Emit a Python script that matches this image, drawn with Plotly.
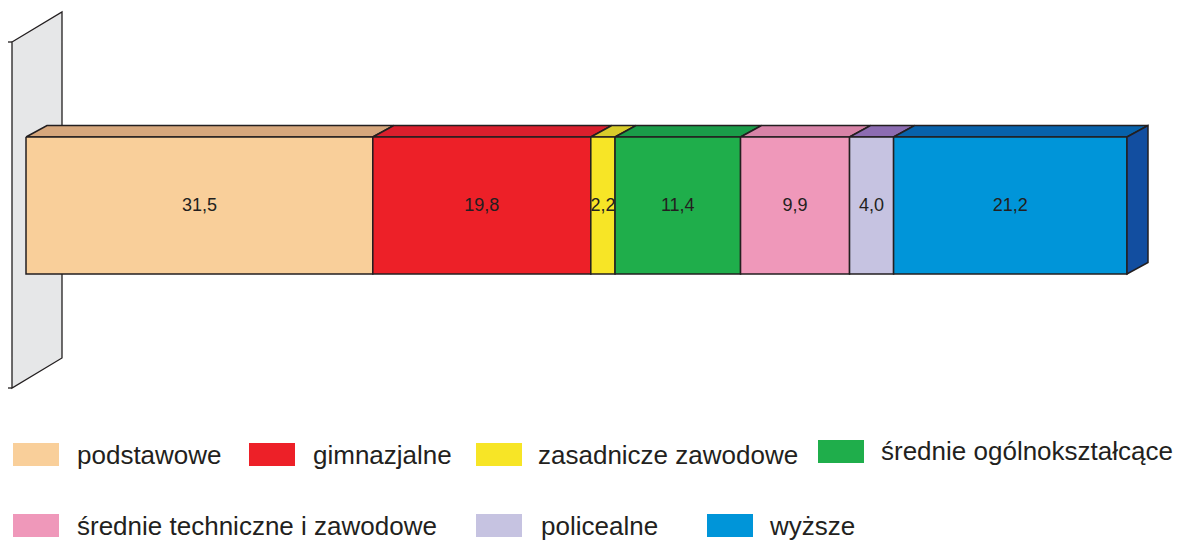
import plotly.graph_objects as go

W, H = 1185, 541
OFF = 8  # domyslny margines strony

kategorie = ['podstawowe', 'gimnazjalne', 'zasadnicze zawodowe', 'średnie ogólnokształcące',
             'średnie techniczne i zawodowe', 'policealne', 'wyższe']
wartosci = [31.5, 19.8, 2.2, 11.4, 9.9, 4.0, 21.2]
etykiety = ['31,5', '19,8', '2,2', '11,4', '9,9', '4,0', '21,2']

kolory_przod = ['#f9cf9a', '#ed2028', '#f7e526', '#1fae4b', '#ef98ba', '#c6c3e1', '#0095d9']
kolory_gora = ['#d6a77c', '#da1f2d', '#d8cc2b', '#1a9c49', '#d883a7', '#8c6cb1', '#0762ab']
kolor_bok = '#124ea0'
kreska = '#231f20'

# skala osi x: 0 -> 26 px, 100 -> 1127 px (piksele strony)
x_lo = (OFF - 26) / 1101 * 100
x_hi = (W - 26) / 1101 * 100
dx = 21 / 1101 * 100   # glebokosc 3D w jednostkach danych
dy = 11.5
y_top, y_bot = 137, 274

fig = go.Figure()

lewe = []
s = 0
for v in wartosci:
    lewe.append(s)
    s += v

# gorne scianki
for x0, v, c in zip(lewe, wartosci, kolory_gora):
    x1 = x0 + v
    fig.add_trace(go.Scatter(
        x=[x0, x0 + dx, x1 + dx, x1, x0],
        y=[y_top, y_top - dy, y_top - dy, y_top, y_top],
        fill='toself', fillcolor=c, mode='lines',
        line=dict(color=kreska, width=1.5), hoverinfo='skip', showlegend=False
    ))

# przednie scianki
for x0, v, c, k in zip(lewe, wartosci, kolory_przod, kategorie):
    x1 = x0 + v
    fig.add_trace(go.Scatter(
        x=[x0, x1, x1, x0, x0],
        y=[y_top, y_top, y_bot, y_bot, y_top],
        fill='toself', fillcolor=c, mode='lines',
        line=dict(color=kreska, width=1.5), name=k, showlegend=False
    ))

# bok ostatniego segmentu
xe = s
fig.add_trace(go.Scatter(
    x=[xe, xe + dx, xe + dx, xe, xe],
    y=[y_top, y_top - dy, y_bot - dy, y_bot, y_top],
    fill='toself', fillcolor=kolor_bok, mode='lines',
    line=dict(color=kreska, width=1.5), hoverinfo='skip', showlegend=False
))

# etykiety wartosci
fig.add_trace(go.Scatter(
    x=[x0 + v / 2 for x0, v in zip(lewe, wartosci)],
    y=[(y_top + y_bot) / 2 + 1] * len(wartosci),
    mode='text', text=etykiety,
    textfont=dict(family='Liberation Sans, Arial', size=18, color=kreska),
    hoverinfo='skip', showlegend=False
))


def px(x):
    return (x - OFF) / (W - OFF)


def py(y):
    return 1 - (y - OFF) / (H - OFF)


shapes = []
# sciana po lewej
shapes.append(dict(
    type='path', xref='paper', yref='paper', layer='below',
    path=f'M {px(12)},{py(42)} L {px(62)},{py(12)} L {px(62)},{py(358)} L {px(12)},{py(388)} Z',
    fillcolor='#e6e7e8', line=dict(color=kreska, width=1.3)
))
for yy in (42, 388):
    shapes.append(dict(type='line', xref='paper', yref='paper', layer='below',
                       x0=px(8), x1=px(12), y0=py(yy), y1=py(yy),
                       line=dict(color=kreska, width=1.3)))

# legenda
legenda = [
    (13, 443, 75, 455),
    (249, 443, 311, 455),
    (476, 443, 536, 455),
    (818, 440, 879, 451),
    (13, 514, 75, 526),
    (476, 514, 539, 526),
    (707, 514, 767, 526),
]
annotations = []
for (sx, sy, tx, ty), k, c in zip(legenda, kategorie, kolory_przod):
    shapes.append(dict(type='rect', xref='paper', yref='paper',
                       x0=px(sx), x1=px(sx + 46), y0=py(sy), y1=py(sy + 23),
                       fillcolor=c, line=dict(width=0)))
    annotations.append(dict(x=px(tx), y=py(ty), xref='paper', yref='paper',
                            text=k, showarrow=False, xanchor='left', yanchor='middle',
                            font=dict(family='Liberation Sans, Arial', size=26, color=kreska)))

fig.update_layout(
    width=W - OFF, height=H - OFF, autosize=False,
    margin=dict(l=0, r=0, t=0, b=0),
    paper_bgcolor='white', plot_bgcolor='rgba(0,0,0,0)',
    xaxis=dict(range=[x_lo, x_hi], visible=False, fixedrange=True),
    yaxis=dict(range=[H, OFF], visible=False, fixedrange=True),
    shapes=shapes, annotations=annotations,
    showlegend=False
)

fig.write_html("out.html")
